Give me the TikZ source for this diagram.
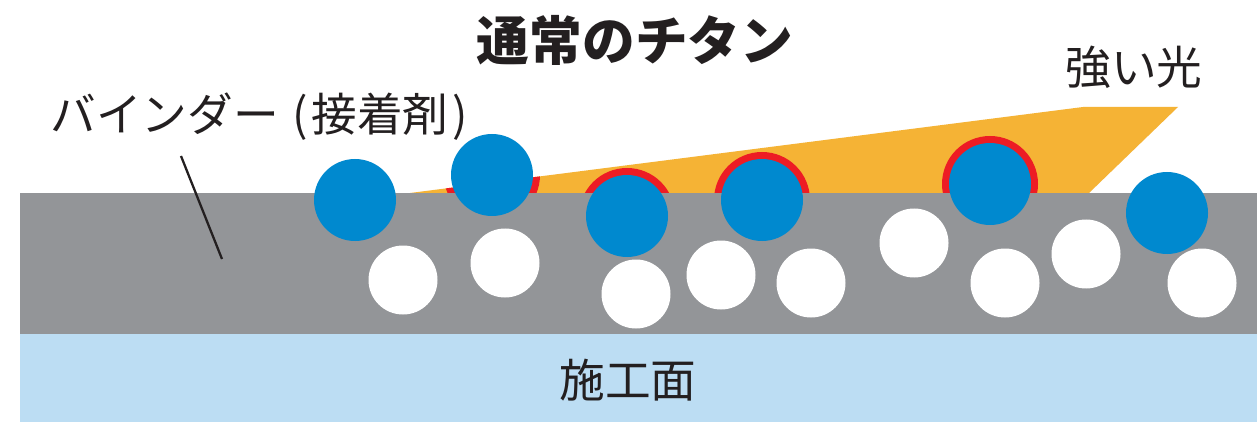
\documentclass[tikz,border=0pt]{standalone}
\usepackage{fontspec}
\setmainfont{Noto Sans CJK JP}
\definecolor{binder}{HTML}{939598}
\definecolor{ground}{HTML}{BCDDF3}
\definecolor{light}{HTML}{F5B335}
\definecolor{titan}{HTML}{0089CF}
\definecolor{rim}{HTML}{ED1C24}
\definecolor{txt}{HTML}{231F20}
\begin{document}
\begin{tikzpicture}[x=0.02cm,y=-0.02cm,
    lbl/.style={text=txt,inner sep=0pt},
    big/.style={lbl,font=\fontsize{26}{26}\selectfont}]
\useasboundingbox (0,0) rectangle (1257,422);
\fill[white] (0,0) rectangle (1257,422);
\fill[binder] (20,193) rectangle (1257,334);
\fill[ground] (20,334) rectangle (1257,422);
\fill[light] (410,193)--(1083,107)--(1178,107)--(1089,193)--cycle;
\begin{scope}
\clip (410,193)--(1083,107)--(1178,107)--(1089,193)--cycle;
\foreach \x/\y in {492/175,627/216,762/200,990/184}
    \fill[rim] (\x,\y) circle (48);
\end{scope}
\foreach \x/\y in {403/280,505/263,636/294,721/275,811/283,914/243,1005/283,1086/254,1202/283}
    \fill[white] (\x,\y) circle (34.5);
\foreach \x/\y in {355/200,492/175,627/216,762/200,990/184,1167/213}
    \fill[titan] (\x,\y) circle (41);
\node[lbl,font=\bfseries\fontsize{30}{30}\selectfont] (title) at (635,40) {通常のチタン};
\node[big] (binderlabel) at (259,117) {バインダー\hspace{0.3em}(\hspace{0.08em}接着剤\hspace{0.08em})};
\node[big] (lightlabel) at (1134,67) {強い光};
\node[big] (surface) at (628,380) {施工面};
\coordinate (leadtop) at (181,156);
\coordinate (leadend) at (222,259);
\draw[txt,line width=1.3pt] (leadtop)--(leadend);
\end{tikzpicture}
\end{document}
